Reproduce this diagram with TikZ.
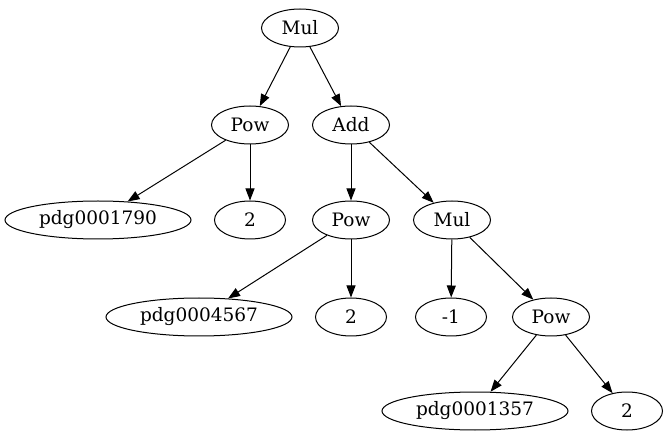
\documentclass[tikz,border=0pt]{standalone}
\usepackage{fontspec}
\setmainfont{DejaVu Serif}
\usetikzlibrary{shapes.geometric,arrows.meta}
\tikzset{>={Triangle[length=12pt,width=9pt]}}
\tikzset{
  every path/.style={line width=1pt},
  expr/.style={ellipse,draw,inner sep=0pt,minimum height=38pt,
               font=\fontsize{18.5}{22}\selectfont},
  op/.style={expr,minimum width=77pt},
  num/.style={expr,minimum width=71pt},
  sym/.style={expr,minimum width=186pt},
}

\begin{document}
\begin{tikzpicture}[x=1pt,y=-1pt]
  \useasboundingbox (0,0) rectangle (669,443);
  % top level
  \node[op]  (mul1) at (300,28)  {Mul};
  \node[op]  (pow1) at (250,125) {Pow};
  \node[op]  (add1) at (351,125) {Add};
  % second level
  \node[sym] (pdg1790) at (98,220)  {pdg0001790};
  \node[num] (two1)    at (250,220) {2};
  \node[op]  (pow2)    at (351,220) {Pow};
  \node[op]  (mul2)    at (452,220) {Mul};
  % third level
  \node[sym] (pdg4567) at (199,317) {pdg0004567};
  \node[num] (two2)    at (351,317) {2};
  \node[num] (minus1)  at (451,317) {-1};
  \node[op]  (pow3)    at (551,317) {Pow};
  % bottom
  \node[sym] (pdg1357) at (475,411) {pdg0001357};
  \node[num] (two3)    at (627,411) {2};

  \draw[->] (mul1) -- (pow1);
  \draw[->] (mul1) -- (add1);
  \draw[->] (pow1) -- (pdg1790);
  \draw[->] (pow1) -- (two1);
  \draw[->] (add1) -- (pow2);
  \draw[->] (add1) -- (mul2);
  \draw[->] (pow2) -- (pdg4567);
  \draw[->] (pow2) -- (two2);
  \draw[->] (mul2) -- (minus1);
  \draw[->] (mul2) -- (pow3);
  \draw[->] (pow3) -- (pdg1357);
  \draw[->] (pow3) -- (two3);
\end{tikzpicture}
\end{document}
